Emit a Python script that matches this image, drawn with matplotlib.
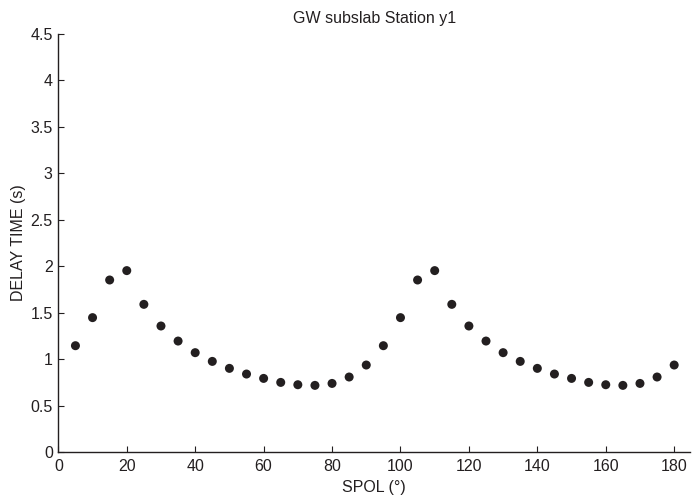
import matplotlib
matplotlib.use("Agg")
import matplotlib.pyplot as plt

spol = [5, 10, 15, 20, 25, 30, 35, 40, 45, 50, 55, 60, 65, 70, 75, 80, 85, 90,
        95, 100, 105, 110, 115, 120, 125, 130, 135, 140, 145, 150, 155, 160, 165, 170, 175, 180]
delay = [1.145, 1.447, 1.852, 1.953, 1.590, 1.357, 1.195, 1.070, 0.976, 0.901, 0.840, 0.793,
         0.750, 0.725, 0.718, 0.739, 0.808, 0.937,
         1.145, 1.447, 1.852, 1.953, 1.590, 1.357, 1.195, 1.070, 0.976, 0.901, 0.840, 0.793,
         0.750, 0.725, 0.718, 0.739, 0.808, 0.937]
xticks = [0, 20, 40, 60, 80, 100, 120, 140, 160, 180]
yticks = [0, 0.5, 1, 1.5, 2, 2.5, 3, 3.5, 4, 4.5]
ytick_labels = ["0", "0.5", "1", "1.5", "2", "2.5", "3", "3.5", "4", "4.5"]

plt.rcParams['font.family'] = ['Liberation Sans', 'DejaVu Sans']

fig = plt.figure(figsize=(6.92, 4.99), dpi=100)
ax = fig.add_axes([0.0843, 0.094, 0.9127, 0.838])
ax.scatter(spol, delay, s=42, color='#231f20', edgecolors='none', zorder=3)
ax.set_xlim(0, 184.6)
ax.set_ylim(0, 4.5)
ax.set_xticks(xticks)
ax.set_xticklabels([str(t) for t in xticks])
ax.set_yticks(yticks)
ax.set_yticklabels(ytick_labels)
for s in ['top', 'right']:
    ax.spines[s].set_visible(False)
for s in ['left', 'bottom']:
    ax.spines[s].set_linewidth(1.0)
    ax.spines[s].set_color('#231f20')
ax.tick_params(direction='in', length=4, width=0.8, labelsize=11.5, colors='#231f20')
ax.tick_params(axis='x', pad=5)
ax.tick_params(axis='y', pad=4)
ax.set_xlabel('SPOL (°)', fontsize=11.5, labelpad=4, color='#231f20')
ax.set_ylabel('DELAY TIME (s)', fontsize=11.5, labelpad=3, color='#231f20')
ax.set_title('GW subslab Station y1', fontsize=11.5, pad=8, color='#231f20')

fig.savefig('out.png', dpi=100)
